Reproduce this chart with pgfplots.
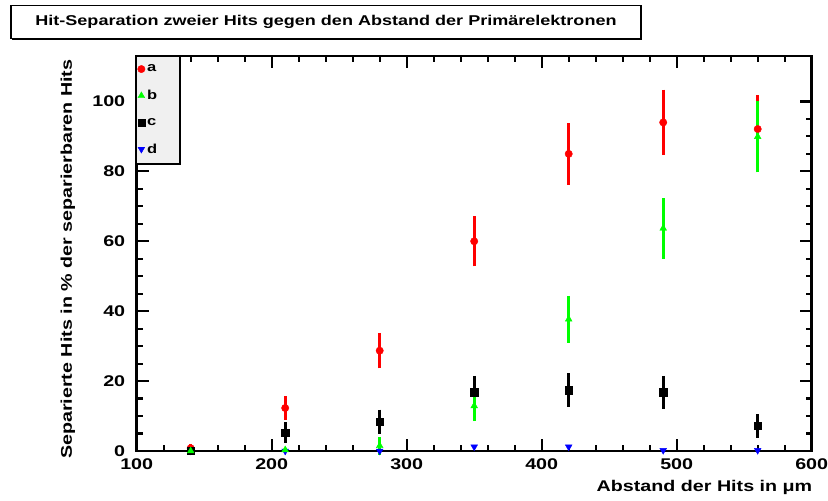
\documentclass[border=0pt]{standalone}
\usepackage{pgfplots}
\pgfplotsset{compat=1.18}
\usepackage{pgfplotstable}
\usepackage{fontspec}
\setmainfont{Liberation Sans}[FakeStretch=1.27]
\usetikzlibrary{shadows}

\pgfplotstableread{
x y ey
140 0.8 0.8
210 12.3 3.0
280 28.7 4.7
350 60.0 6.8
420 85.0 8.4
490 94.0 9.0
560 92.1 9.3
}\tabA
\pgfplotstableread{
x y ey
140 0.0 0.0
210 0.3 0.3
280 1.5 2.2
350 12.9 4.0
420 37.7 6.3
490 63.7 8.3
560 89.9 9.8
}\tabB
\pgfplotstableread{
x y ey
140 0.0 0.0
210 5.3 2.6
280 8.4 3.1
350 16.8 4.3
420 17.4 4.4
490 16.8 4.3
560 7.2 3.0
}\tabC
\pgfplotstableread{
x y ey
140 0.0 0.0
210 0.0 0.0
280 0.0 0.0
350 1.2 0.0
420 1.2 0.0
490 0.2 0.0
560 0.2 0.0
}\tabD

\begin{document}
\begin{tikzpicture}
\useasboundingbox (0,0) rectangle (828pt,501pt);
\node[draw, line width=1.8pt, fill=white, minimum width=630pt, minimum height=33pt,
  drop shadow={shadow xshift=1.2pt, shadow yshift=-1.2pt, opacity=1, fill=black},
  font=\bfseries\fontsize{14.2}{17}\selectfont] at (326pt,479pt)
  {Hit-Separation zweier Hits gegen den Abstand der Primärelektronen};
\begin{axis}[
  at={(136.7pt,50pt)}, anchor=south west,
  scale only axis, width=675pt, height=395pt,
  xmin=100, xmax=600, ymin=0, ymax=113,
  xtick={100,200,...,600}, ytick={0,20,...,100},
  minor x tick num=4, minor y tick num=3,
  tick align=inside, major tick length=12pt, minor tick length=6pt,
  every tick/.style={black, line width=2.2pt},
  axis line style={line width=2.6pt},
  clip=false,
  /pgf/number format/assume math mode=true,
  ticklabel style={font=\bfseries\fontsize{15.5}{18}\selectfont},
  xticklabel style={yshift=-4pt},
  yticklabel style={xshift=-8pt},
  xlabel={Abstand der Hits in μm},
  ylabel={Separierte Hits in \% der separierbaren Hits},
  label style={font=\bfseries\fontsize{15.5}{18}\selectfont},
  x label style={at={(axis description cs:1.006,0)}, anchor=north east, yshift=-26pt},
  y label style={at={(axis description cs:-0.102,1)}, anchor=east},
  legend style={at={(axis description cs:-0.003,1.003)}, anchor=north west,
    draw=black, line width=2pt, fill=black!6,
    font=\bfseries\fontsize{13}{15}\selectfont,
    row sep=13pt, inner xsep=2pt, inner ysep=7pt,
    drop shadow={shadow xshift=1.2pt, shadow yshift=-1.2pt, opacity=1, fill=black}},
  legend cell align=left,
  legend image code/.code={\draw[#1, line width=0.4pt] plot coordinates {(0pt,0pt)};},
]
\addlegendimage{only marks, mark=*, red, mark size=3.7pt}
\addlegendentry{a\hspace*{19pt}}
\addlegendimage{only marks, mark=triangle*, green, mark size=3.9pt}
\addlegendentry{b\hspace*{19pt}}
\addlegendimage{only marks, mark=square*, black, mark size=3.6pt}
\addlegendentry{c\hspace*{19pt}}
\addlegendimage{only marks, mark=triangle*, blue, mark size=3.9pt, mark options={rotate=180}}
\addlegendentry{d\hspace*{19pt}}

\pgfplotsset{myerr/.style={error bars/.cd, y dir=both, y explicit,
  error bar style={line width=2.6pt}, error mark=-, error mark options={line width=2.6pt, mark size=1.3pt}}}

\addplot[forget plot, only marks, mark=triangle*, blue, mark size=3.9pt, mark options={rotate=180}]
  table[x=x, y=y]{\tabD};
\addplot[forget plot, only marks, mark=*, red, mark size=3.7pt, myerr]
  table[x=x, y=y, y error=ey]{\tabA};
\addplot[forget plot, only marks, mark=square*, black, mark size=3.6pt, myerr]
  table[x=x, y=y, y error=ey]{\tabC};
\addplot[forget plot, only marks, mark=triangle*, green, mark size=3.9pt, myerr]
  table[x=x, y=y, y error=ey]{\tabB};
\end{axis}
\end{tikzpicture}
\end{document}
